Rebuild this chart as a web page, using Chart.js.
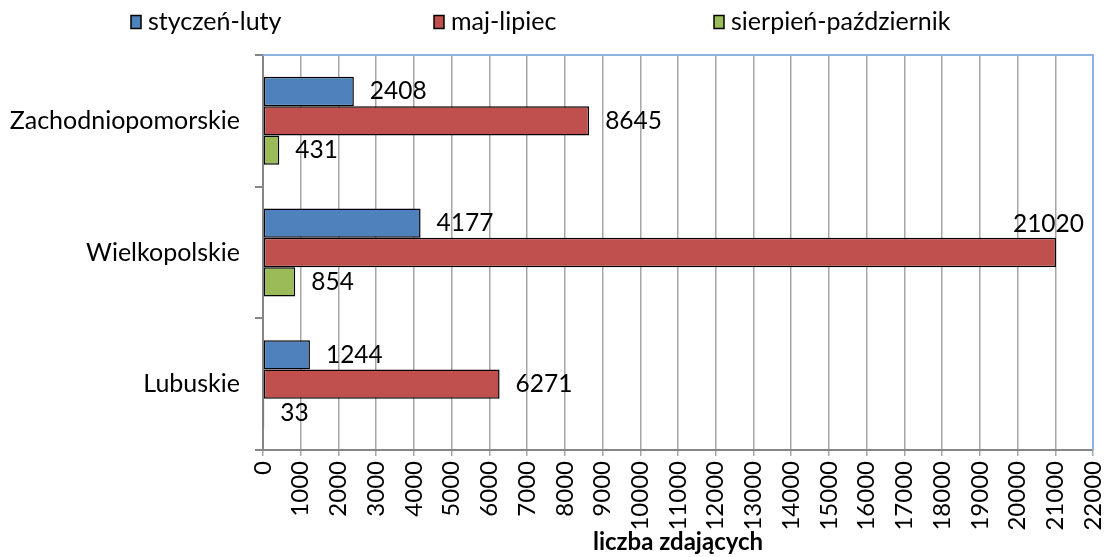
<!DOCTYPE html>
<html>
<head>
<meta charset="utf-8">
<script src="https://cdn.jsdelivr.net/npm/chart.js@4/dist/chart.umd.min.js"></script>
<style>
html,body{margin:0;padding:0;background:#fff;}
canvas{display:block;}
</style>
</head>
<body>
<canvas id="c" width="1107" height="557"></canvas>
<script>
const categories = ["Zachodniopomorskie", "Wielkopolskie", "Lubuskie"];
const seriesNames = ["styczeń-luty", "maj-lipiec", "sierpień-październik"];
const styczenLuty = [2408, 4177, 1244];
const majLipiec = [8645, 21020, 6271];
const sierpienPazdziernik = [431, 854, 33];
const xTickMin = 0, xTickMax = 22000, xTickStep = 1000;
const axisTitle = "liczba zdających";

const colors = ["#4F81BD", "#C0504D", "#9BBB59"];
const FONT = "Lato";

const legendPlugin = {
  id: 'customLegend',
  afterDraw(chart) {
    const ctx = chart.ctx;
    const xs = [131, 434, 714];
    const yc = 22;
    ctx.save();
    ctx.font = `25px ${FONT}`;
    ctx.textBaseline = 'middle';
    ctx.textAlign = 'left';
    chart.data.datasets.forEach((ds, i) => {
      ctx.fillStyle = ds.backgroundColor;
      ctx.fillRect(xs[i], yc - 6.5, 10, 13);
      ctx.strokeStyle = '#000';
      ctx.lineWidth = 1.5;
      ctx.strokeRect(xs[i], yc - 6.5, 10, 13);
      ctx.fillStyle = '#000';
      ctx.fillText(ds.label, xs[i] + 17, yc);
    });
    ctx.restore();
  }
};

const borderPlugin = {
  id: 'plotBorder',
  beforeDatasetsDraw(chart) {
    const {ctx, chartArea: a} = chart;
    ctx.save();
    ctx.strokeStyle = '#8DB3E2';
    ctx.lineWidth = 2;
    ctx.beginPath();
    ctx.moveTo(a.left, a.top);
    ctx.lineTo(a.right, a.top);
    ctx.lineTo(a.right, a.bottom);
    ctx.stroke();
    ctx.restore();
  }
};

const labelPlugin = {
  id: 'valueLabels',
  afterDatasetsDraw(chart) {
    const {ctx, chartArea: a} = chart;
    ctx.save();
    ctx.font = `24.5px ${FONT}`;
    ctx.fillStyle = '#000';
    ctx.textAlign = 'left';
    ctx.textBaseline = 'middle';
    chart.data.datasets.forEach((ds, di) => {
      const meta = chart.getDatasetMeta(di);
      meta.data.forEach((el, i) => {
        const txt = String(ds.data[i]);
        const w = ctx.measureText(txt).width;
        let x = el.x + 16;
        let y = el.y;
        if (x + w > a.right - 4) {
          x = a.right - w - 9;
          y = el.y - el.height / 2 - 14;
        }
        ctx.fillText(txt, x, y);
      });
    });
    ctx.restore();
  }
};

new Chart(document.getElementById('c'), {
  type: 'bar',
  data: {
    labels: categories,
    datasets: [
      {label: seriesNames[0], data: styczenLuty, backgroundColor: colors[0]},
      {label: seriesNames[1], data: majLipiec, backgroundColor: colors[1]},
      {label: seriesNames[2], data: sierpienPazdziernik, backgroundColor: colors[2]}
    ].map(d => Object.assign(d, {borderColor: '#000', borderWidth: 1.5, borderSkipped: false, categoryPercentage: 0.668, barPercentage: 1}))
  },
  options: {
    indexAxis: 'y',
    responsive: false,
    devicePixelRatio: 1,
    animation: false,
    layout: {padding: {top: 55, right: 14, left: 0, bottom: 0}},
    plugins: {legend: {display: false}, tooltip: {enabled: false}},
    scales: {
      x: {
        min: xTickMin, max: xTickMax,
        ticks: {stepSize: xTickStep, autoSkip: false, minRotation: 90, maxRotation: 90, padding: 5,
                color: '#000', font: {family: FONT, size: 24},
                callback: (v) => String(v)},
        grid: {color: '#A6A6A6', lineWidth: 1.5, tickLength: 6, drawTicks: true},
        border: {color: '#868686', width: 2},
        title: {display: true, text: axisTitle, color: '#000', font: {family: FONT, size: 24, weight: 'bold'}, padding: {top: 0, bottom: 0}},
        afterFit(scale) { scale.height = 107; scale.paddingLeft = 0; scale.paddingRight = 0; }
      },
      y: {
        ticks: {color: '#000', font: {family: FONT, size: 25}, padding: 15},
        grid: {offset: true, drawOnChartArea: false, tickLength: 8, color: '#868686', lineWidth: 2},
        border: {color: '#868686', width: 2},
        afterFit(scale) { scale.width = 263; scale.paddingTop = 0; scale.paddingBottom = 0; }
      }
    }
  },
  plugins: [legendPlugin, borderPlugin, labelPlugin]
});
</script>
</body>
</html>
